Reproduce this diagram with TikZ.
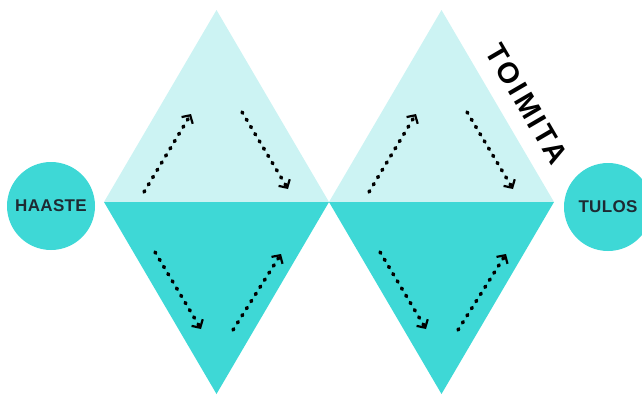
\documentclass[tikz,border=0pt]{standalone}
\usepackage{fontspec}
\setmainfont{Liberation Sans}
\usetikzlibrary{arrows.meta}
\definecolor{lightteal}{HTML}{CCF3F3}
\definecolor{darkteal}{HTML}{3ED8D6}
\definecolor{inkdark}{HTML}{1E2A33}
\tikzset{
  dotarrow/.style={line width=3.6pt, line cap=round, dash pattern=on 1.4pt off 7pt,
    -{Straight Barb[length=6pt,width=13pt,line width=2.2pt]}},
  endcircle/.style={circle, fill=darkteal, minimum size=88pt, inner sep=0pt,
    text=inkdark, font=\bfseries\fontsize{17}{19}\selectfont\addfontfeature{LetterSpace=2}}
}
\begin{document}
\begin{tikzpicture}[x=1pt,y=-1pt]
    \def\halfw{112.5}
    \def\midy{202}
    \useasboundingbox (0,0) rectangle (642,394);

    % Draw the two diamonds with their arrows
    \foreach \cx/\n in {216.5/1, 441.5/2} {
        \fill[lightteal] (\cx-\halfw,\midy) -- (\cx,10) -- (\cx+\halfw,\midy) -- cycle;
        \fill[darkteal] (\cx-\halfw,\midy) -- (\cx,394) -- (\cx+\halfw,\midy) -- cycle;

        \coordinate (up\n s) at (\cx-72.5,192);
        \coordinate (up\n e) at (\cx-25.5,114);
        \coordinate (dn\n s) at (\cx+25.5,112);
        \coordinate (dn\n e) at (\cx+71.5,189);
        \coordinate (lo\n s) at (\cx-61.5,252);
        \coordinate (lo\n e) at (\cx-15.5,329);
        \coordinate (ri\n s) at (\cx+16.5,330);
        \coordinate (ri\n e) at (\cx+64.5,254);
        \draw[dotarrow] (up\n s) -- (up\n e);
        \draw[dotarrow] (dn\n s) -- (dn\n e);
        \draw[dotarrow] (lo\n s) -- (lo\n e);
        \draw[dotarrow] (ri\n s) -- (ri\n e);
    }

    \node[endcircle] (haaste) at (51,206) {HAASTE};
    \node[endcircle] (tulos) at (608,207) {TULOS};

    \node[rotate=-59.7, inner sep=0pt, font=\bfseries\fontsize{29}{32}\selectfont\addfontfeature{LetterSpace=10}] (toimita) at (527,104) {TOIMITA};
\end{tikzpicture}
\end{document}
